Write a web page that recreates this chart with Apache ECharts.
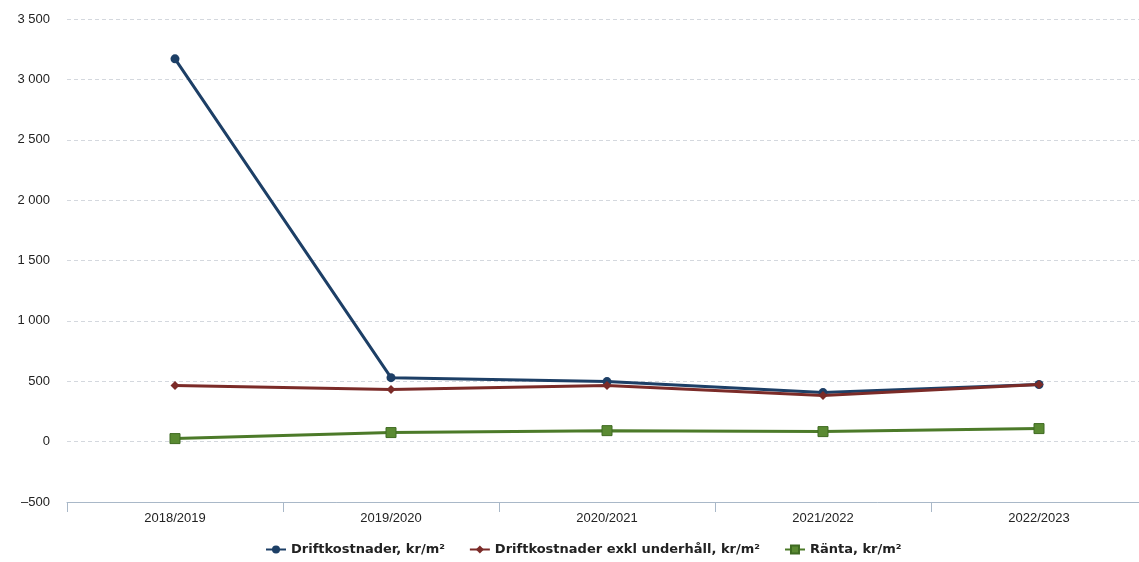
<!DOCTYPE html>
<html>
<head>
<meta charset="utf-8">
<script src="https://cdn.jsdelivr.net/npm/echarts@6/dist/echarts.min.js"></script>
<style>
  html, body { margin: 0; padding: 0; background: #fff; overflow: hidden; }
  /* the plot runs a few pixels past the right edge of the window, like the reference */
  #chart-container { width: 1147px; height: 562px; }
</style>
</head>
<body>
<div id="chart-container"></div>
<script>
// data
var years = ['2018/2019', '2019/2020', '2020/2021', '2021/2022', '2022/2023'];
var drift = [3170, 530, 497, 406, 473];
var driftExkl = [464, 431, 464, 381, 473];
var ranta = [25, 75, 91, 83, 108];

var dom = document.getElementById('chart-container');
var myChart = echarts.init(dom, null, { renderer: 'canvas' });

// "3 500" style labels
function fmt(v) {
  var s = String(Math.abs(v)).replace(/\B(?=(\d{3})+(?!\d))/g, ' ');
  return (v < 0 ? '\u2013' : '') + s;
}

var option = {
  backgroundColor: '#fff',
  animation: false,
  grid: { left: 67, top: 19, right: 0, bottom: 60, containLabel: false },
  legend: {
    bottom: 1,
    left: 260,
    itemGap: 24,
    itemWidth: 20,
    itemHeight: 10,
    textStyle: { fontFamily: 'DejaVu Sans', fontWeight: 'bold', fontSize: 13, color: '#222' },
    data: ['Driftkostnader, kr/m²', 'Driftkostnader exkl underhåll, kr/m²', 'Ränta, kr/m²']
  },
  xAxis: {
    type: 'category',
    data: years,
    boundaryGap: true,
    axisLine: { onZero: false, lineStyle: { color: '#a9b8c8', width: 1 } },
    axisTick: { show: true, length: 10, lineStyle: { color: '#a9b8c8' } },
    axisLabel: { color: '#222', fontSize: 13, fontFamily: 'Liberation Sans', margin: 10 },
    splitLine: { show: false }
  },
  yAxis: {
    type: 'value',
    min: -500,
    max: 3500,
    interval: 500,
    axisLine: { show: false },
    axisTick: { show: false },
    axisLabel: { color: '#222', fontSize: 13, fontFamily: 'Liberation Sans', margin: 17, formatter: fmt },
    splitLine: { lineStyle: { color: '#d4d8de', type: [4, 3], width: 1 } }
  },
  series: [
    {
      name: 'Driftkostnader, kr/m²',
      type: 'line',
      data: drift,
      symbol: 'circle',
      symbolSize: 9,
      itemStyle: { color: '#1d3f66' },
      lineStyle: { color: '#1d3f66', width: 3 },
      z: 3
    },
    {
      name: 'Driftkostnader exkl underhåll, kr/m²',
      type: 'line',
      data: driftExkl,
      symbol: 'diamond',
      symbolSize: 9,
      itemStyle: { color: '#7b2b28' },
      lineStyle: { color: '#7b2b28', width: 3 },
      z: 4
    },
    {
      name: 'Ränta, kr/m²',
      type: 'line',
      data: ranta,
      symbol: 'rect',
      symbolSize: 10,
      itemStyle: { color: '#5a8a32', borderColor: '#3f6b22', borderWidth: 1 },
      lineStyle: { color: '#4c7a29', width: 3 },
      z: 2
    }
  ]
};

myChart.setOption(option);
window.addEventListener('resize', myChart.resize);
</script>
</body>
</html>
